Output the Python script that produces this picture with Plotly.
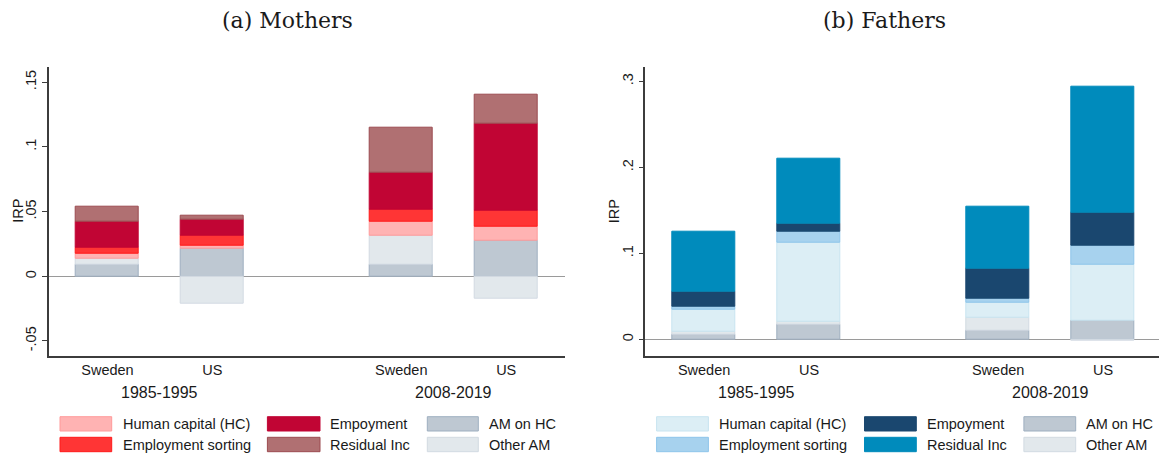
import plotly.graph_objects as go

W, H = 1159, 456

# ---------------- data ----------------
countries = ["Sweden", "US", "Sweden", "US"]
periods = ["1985-1995", "2008-2019"]
xpos = [0, 1, 2.8, 3.8]
series_names = ["AM on HC", "Other AM", "Human capital (HC)", "Employment sorting", "Empoyment", "Residual Inc"]

# Mothers (IRP components)
am_hc_m = [0.0093, 0.0214, 0.0088, 0.0278]
other_am_m = [0.0041, -0.0211, 0.0227, -0.0173]
hc_m = [0.0041, 0.0021, 0.0108, 0.0106]
es_m = [0.0049, 0.0077, 0.0088, 0.0126]
emp_m = [0.0201, 0.0124, 0.0286, 0.0673]
res_m = [0.0111, 0.0031, 0.0348, 0.0219]

# Fathers (IRP components)
am_hc_f = [0.0058, 0.0175, 0.0097, 0.0221]
other_am_f = [0.0031, 0.0031, 0.0159, -0.0020]
hc_f = [0.0256, 0.0919, 0.0171, 0.0648]
es_f = [0.0031, 0.0125, 0.0043, 0.0225]
emp_f = [0.0175, 0.0093, 0.0349, 0.0377]
res_f = [0.0699, 0.0756, 0.0725, 0.1470]

yt_m = [-0.05, 0, 0.05, 0.1, 0.15]
yt_m_text = ["-.05", "0", ".05", ".1", ".15"]
yt_f = [0, 0.1, 0.2, 0.3]
yt_f_text = ["0", ".1", ".2", ".3"]

# ---------------- styles ----------------
fill_m = ["#BEC8D2", "#E2E8EC", "#FFB3B3", "#FF3535", "#C10534", "#B07072"]
line_m = ["#9EAFC0", "#D2DAE2", "#FF9A9A", "#FF1A1A", "#C10534", "#9C4B50"]
fill_f = ["#BEC8D2", "#E2E8EC", "#DCEEF5", "#A7D2EE", "#1A476F", "#008BBC"]
line_f = ["#9EAFC0", "#D2DAE2", "#C8E4F0", "#8EC5EA", "#1A476F", "#008BBC"]

FONT = "Liberation Sans, Arial, Helvetica, sans-serif"
SERIF = "DejaVu Serif, Liberation Serif, serif"
TXT = "#1a1a1a"
AX = "#3c3c3c"

def px(x):
    return x / W

def py(y):
    return 1 - y / H

fig = go.Figure()

data_m = [am_hc_m, other_am_m, hc_m, es_m, emp_m, res_m]
data_f = [am_hc_f, other_am_f, hc_f, es_f, emp_f, res_f]

for i, name in enumerate(series_names):
    fig.add_trace(go.Bar(
        x=xpos, y=data_m[i], name=name, width=0.6,
        marker=dict(color=fill_m[i], line=dict(color=line_m[i], width=1)),
        xaxis="x", yaxis="y", showlegend=False))
for i, name in enumerate(series_names):
    fig.add_trace(go.Bar(
        x=xpos, y=data_f[i], name=name, width=0.6,
        marker=dict(color=fill_f[i], line=dict(color=line_f[i], width=1)),
        xaxis="x2", yaxis="y2", showlegend=False))

y_dom = [py(355.7), py(66.7)]
xcommon = dict(tickvals=xpos, ticktext=countries, showline=True, linecolor=AX, linewidth=1.5,
               ticks="", showgrid=False, zeroline=False,
               tickfont=dict(family=FONT, size=14.5, color=TXT), fixedrange=True)
ycommon = dict(tickangle=-90, ticks="outside", ticklen=5, tickcolor=AX, tickwidth=1.2,
               showline=True, linecolor=AX, linewidth=1.5, showgrid=False,
               zeroline=True, zerolinecolor="#9a9a9a", zerolinewidth=1.2,
               tickfont=dict(family=FONT, size=14.5, color=TXT), domain=y_dom)

fig.update_layout(
    width=W, height=H, margin=dict(l=0, r=0, t=0, b=0),
    paper_bgcolor="white", plot_bgcolor="white",
    barmode="relative", bargap=0,
    xaxis=dict(domain=[px(48.7), px(565)], range=[-0.56, 4.36], anchor="y", **xcommon),
    yaxis=dict(range=[-0.0614, 0.162], tickvals=yt_m, ticktext=yt_m_text, anchor="x", **ycommon),
    xaxis2=dict(domain=[px(645.3), 1.0], range=[-0.56, 4.332], anchor="y2", **xcommon),
    yaxis2=dict(range=[-0.019, 0.317], tickvals=yt_f, ticktext=yt_f_text, anchor="x2", **ycommon),
    showlegend=False,
)

ann = []
# panel titles
ann.append(dict(text="(a) Mothers", x=px(287), y=py(20.5), xref="paper", yref="paper",
                showarrow=False, xanchor="center", yanchor="middle",
                font=dict(family=SERIF, size=22, color=TXT)))
ann.append(dict(text="(b) Fathers", x=px(884), y=py(20.5), xref="paper", yref="paper",
                showarrow=False, xanchor="center", yanchor="middle",
                font=dict(family=SERIF, size=22, color=TXT)))
# y titles
for xx in (17.7, 614.3):
    ann.append(dict(text="IRP", x=px(xx), y=py(211), xref="paper", yref="paper", textangle=-90,
                    showarrow=False, xanchor="center", yanchor="middle",
                    font=dict(family=FONT, size=14.5, color=TXT)))
# period group labels
for xr in ("x", "x2"):
    for j, p in enumerate(periods):
        ann.append(dict(text=p, x=(xpos[2 * j] + xpos[2 * j + 1]) / 2, xref=xr,
                        y=py(392.7), yref="paper", showarrow=False,
                        xanchor="center", yanchor="middle",
                        font=dict(family=FONT, size=16, color=TXT)))

# legends (drawn manually, Stata style: 3 columns x 2 rows)
legend_order = [2, 3, 4, 5, 0, 1]  # HC, ES, Emp, Resid, AM on HC, Other AM
leg_cols_m = [(60, 111.7, 120.6), (267.4, 320, 327.8), (427.3, 478.3, 486.8)]
leg_cols_f = [(656.6, 708.4, 717.2), (864.5, 916.3, 925.1), (1023.9, 1075.7, 1083.8)]
rows = [(416.7, 431.0), (437.3, 451.7)]
shapes = []
for cols, fills, lines in ((leg_cols_m, fill_m, line_m), (leg_cols_f, fill_f, line_f)):
    for k, idx in enumerate(legend_order):
        c, r = k // 2, k % 2
        x0, x1, xt = cols[c]
        y0, y1 = rows[r]
        shapes.append(dict(type="rect", xref="paper", yref="paper",
                           x0=px(x0), x1=px(x1), y0=py(y1), y1=py(y0),
                           fillcolor=fills[idx], line=dict(color=lines[idx], width=1)))
        ann.append(dict(text=series_names[idx], x=px(xt), y=py((y0 + y1) / 2),
                        xref="paper", yref="paper", showarrow=False,
                        xanchor="left", yanchor="middle",
                        font=dict(family=FONT, size=14.5, color=TXT)))

fig.update_layout(annotations=ann, shapes=shapes)
fig.write_html(
    "out.html",
    config={"displayModeBar": False},
    post_script="document.body.style.margin='0';document.body.style.padding='0';"
                "document.body.style.overflow='hidden';",
)
